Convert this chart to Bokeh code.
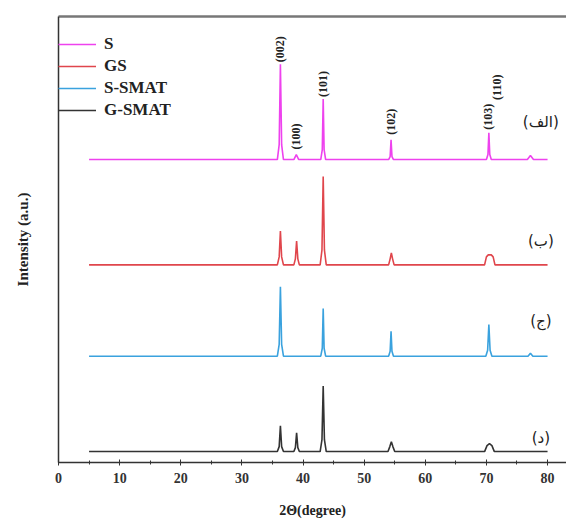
import math
from bokeh.plotting import figure
from bokeh.models import (ColumnDataSource, Legend, LegendItem, LinearAxis, FixedTicker,
                          Range1d)
from bokeh.core.properties import value
from bokeh.embed import file_html
from bokeh.resources import INLINE

# ---------------- data ----------------
series_names = ["S", "GS", "S-SMAT", "G-SMAT"]
series_colors = ["#EE42EE", "#E0464C", "#3AA2DE", "#333333"]
offsets = [305, 199, 107, 11]

s_x = [5, 35.8, 36.1, 36.3, 36.5, 36.8, 38.5, 38.9, 39.3, 42.9, 43.15, 43.3, 43.45, 43.7,
       54.0, 54.25, 54.4, 54.55, 54.8, 70.0, 70.25, 70.4, 70.55, 70.8, 76.7, 77.2, 77.7, 80]
s_y = [0, 0, 15, 96, 15, 0, 0, 5, 0, 0, 10, 61, 10, 0,
       0, 3, 20, 3, 0, 0, 5, 27, 5, 0, 0, 4, 0, 0]

gs_x = [5, 35.8, 36.1, 36.3, 36.5, 36.8, 38.5, 38.75, 38.95, 39.15, 39.4, 42.8, 43.1, 43.3,
        43.5, 43.8, 54.0, 54.25, 54.45, 54.65, 54.9, 69.7, 70.0, 70.3, 70.8, 71.1, 71.4, 80]
gs_y = [0, 0, 8, 34, 8, 0, 0, 6, 24, 6, 0, 0, 15, 89,
        15, 0, 0, 6, 12, 6, 0, 0, 8, 10, 10, 8, 0, 0]

ssmat_x = [5, 35.8, 36.1, 36.3, 36.5, 36.8, 42.9, 43.15, 43.3, 43.45, 43.7, 54.0, 54.25,
           54.4, 54.55, 54.8, 69.9, 70.2, 70.4, 70.6, 70.9, 76.8, 77.2, 77.6, 80]
ssmat_y = [0, 0, 12, 70, 12, 0, 0, 8, 48, 8, 0, 0, 5,
           25, 5, 0, 0, 6, 32, 6, 0, 0, 3, 0, 0]

gsmat_x = [5, 35.8, 36.1, 36.3, 36.5, 36.8, 38.5, 38.75, 38.95, 39.15, 39.4, 42.8, 43.1,
           43.3, 43.5, 43.8, 53.9, 54.2, 54.45, 54.7, 55.0, 69.7, 70.1, 70.5, 70.9, 71.3, 80]
gsmat_y = [0, 0, 5, 26, 5, 0, 0, 4, 19, 4, 0, 0, 12,
           66, 12, 0, 0, 5, 10, 5, 0, 0, 6, 8, 6, 0, 0]

peak_labels = ["(002)", "(100)", "(101)", "(102)", "(103)", "(110)"]
peak_label_x = [36.3, 38.9, 43.3, 54.4, 70.3, 71.7]
peak_label_y = [403, 315, 368, 330, 335, 365]

panel_labels = ["(الف)", "(ب)", "(ج)", "(د)"]
panel_label_x = [78.9, 78.9, 78.9, 78.9]
panel_label_y = [343, 223, 142, 25]

x_ticks = [0, 10, 20, 30, 40, 50, 60, 70, 80]
x_minor_ticks = [5, 15, 25, 35, 45, 55, 65, 75]

# ---------------- figure ----------------
SERIF = "Liberation Serif"
LRM = "\u200e"

p = figure(width=566, height=520, output_backend="svg", toolbar_location=None,
           x_range=Range1d(0, 83.1), y_range=Range1d(0, 449),
           min_border_left=58, min_border_right=0, min_border_top=16, min_border_bottom=55)
p.outline_line_color = None
p.grid.grid_line_color = None
p.background_fill_color = "white"

# x axis
xa = p.xaxis[0]
xa.ticker = FixedTicker(ticks=x_ticks, minor_ticks=x_minor_ticks)
xa.axis_line_color = "#333333"
xa.axis_line_width = 1.5
xa.major_tick_in = 3
xa.major_tick_out = 3
xa.minor_tick_in = 2
xa.minor_tick_out = 2
xa.major_tick_line_color = "#333333"
xa.minor_tick_line_color = "#333333"
xa.major_label_text_font = SERIF
xa.major_label_text_font_style = "bold"
xa.major_label_text_font_size = "14px"
xa.major_label_text_color = "#333333"
xa.major_label_standoff = 7
xa.axis_label = "2Θ(degree)"
xa.axis_label_text_font = SERIF
xa.axis_label_text_font_style = "bold"
xa.axis_label_text_font_size = "14px"
xa.axis_label_text_color = "#222222"
xa.axis_label_standoff = 17

# y axis
ya = p.yaxis[0]
ya.ticker = FixedTicker(ticks=[])
ya.axis_line_color = "#333333"
ya.axis_line_width = 1.5
ya.major_tick_line_color = None
ya.minor_tick_line_color = None
ya.axis_label = "Intensity (a.u.)"
ya.axis_label_text_font = SERIF
ya.axis_label_text_font_style = "bold"
ya.axis_label_text_font_size = "15px"
ya.axis_label_text_color = "#222222"
ya.axis_label_standoff = 28

# top border
top = LinearAxis(ticker=FixedTicker(ticks=[]), axis_line_color="#777777", axis_line_width=2.5,
                 major_tick_line_color=None, minor_tick_line_color=None,
                 major_label_text_font_size="0px")
p.add_layout(top, "above")

# traces
xs_all = [s_x, gs_x, ssmat_x, gsmat_x]
ys_all = [s_y, gs_y, ssmat_y, gsmat_y]
renderers = []
for xs, ys, off, col in zip(xs_all, ys_all, offsets, series_colors):
    src = ColumnDataSource(dict(x=xs, y=[v + off for v in ys]))
    r = p.line("x", "y", source=src, line_color=col, line_width=1.6)
    renderers.append(r)

# legend
legend = Legend(items=[LegendItem(label=n, renderers=[r]) for n, r in zip(series_names, renderers)],
                location=(0, 341), orientation="vertical")
legend.background_fill_alpha = 0
legend.border_line_color = None
legend.padding = 7
legend.margin = 0
legend.spacing = 0
legend.label_height = 22
legend.glyph_height = 22
legend.glyph_width = 38
legend.label_standoff = 8
legend.label_text_font = SERIF
legend.label_text_font_style = "bold"
legend.label_text_font_size = "17px"
legend.label_text_color = "#222222"
p.add_layout(legend, "center")

# peak labels
pl_src = ColumnDataSource(dict(x=peak_label_x, y=peak_label_y, t=peak_labels))
p.text("x", "y", text="t", source=pl_src, angle=math.pi / 2, text_align="left",
       text_baseline="middle", text_font=value(SERIF), text_font_style="bold",
       text_font_size="12px", text_color="#222222")

# panel labels
pn_src = ColumnDataSource(dict(x=panel_label_x, y=panel_label_y,
                               t=[LRM + t + LRM for t in panel_labels]))
p.text("x", "y", text="t", source=pn_src, text_align="center", text_baseline="middle",
       text_font=value("DejaVu Sans"), text_font_size="15px", text_color="#222222")

open("out.html", "w").write(file_html(p, INLINE))
